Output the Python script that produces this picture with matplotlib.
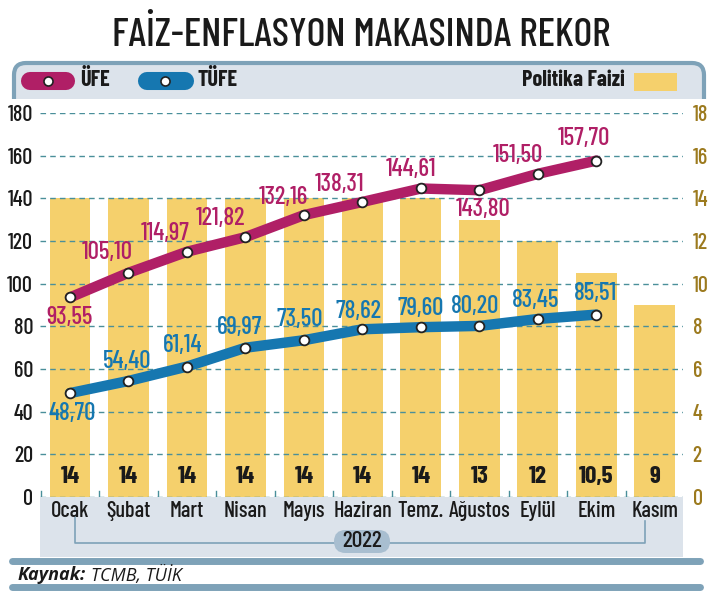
import matplotlib
matplotlib.use("Agg")
import matplotlib.pyplot as plt
from matplotlib.patches import FancyBboxPatch, Rectangle
import numpy as np

months = ["Ocak", "Şubat", "Mart", "Nisan", "Mayıs", "Haziran", "Temz.", "Ağustos", "Eylül", "Ekim", "Kasım"]
policy_rate = [14, 14, 14, 14, 14, 14, 14, 13, 12, 10.5, 9]
policy_labels = ["14", "14", "14", "14", "14", "14", "14", "13", "12", "10,5", "9"]
ufe = [93.55, 105.10, 114.97, 121.82, 132.16, 138.31, 144.61, 143.80, 151.50, 157.70]
tufe = [48.70, 54.40, 61.14, 69.97, 73.50, 78.62, 79.60, 80.20, 83.45, 85.51]
left_ticks = [0, 20, 40, 60, 80, 100, 120, 140, 160, 180]
right_ticks = [0, 2, 4, 6, 8, 10, 12, 14, 16, 18]
year_label = "2022"

FONT = ["Barlow Condensed", "DejaVu Sans"]
plt.rcParams["font.family"] = FONT

C_UFE = "#b01f66"
C_TUFE = "#1677b0"
C_BAR = "#f5d06c"
C_PANEL = "#dce3eb"
C_BORDER = "#7ea2b8"
C_TEXT = "#1a1a1a"
C_GRID = "#4a8f9a"
C_RIGHT = "#9c7a1e"

W, H = 720, 600
fig = plt.figure(figsize=(7.2, 6.0), dpi=100)
fig.patch.set_facecolor("white")

ov = fig.add_axes([0, 0, 1, 1], zorder=0)
ov.set_xlim(0, W)
ov.set_ylim(H, 0)
ov.axis("off")

# title
ov.text(361, 36, "FAİZ-ENFLASYON MAKASINDA REKOR", ha="center", va="center",
        fontsize=29, fontweight=500, color=C_TEXT)

# legend panel (rounded top)
ov.add_patch(FancyBboxPatch((14, 63), 690, 60, boxstyle="round,pad=0,rounding_size=12",
                            facecolor=C_PANEL, edgecolor=C_BORDER, linewidth=3, zorder=1))
ov.add_patch(Rectangle((8, 99), 704, 30, facecolor="white", edgecolor="none", zorder=2))
ov.plot([30, 66], [81, 81], color=C_UFE, linewidth=13, solid_capstyle="round", zorder=3)
ov.plot([48], [81], "o", markersize=6.5, markerfacecolor="white", markeredgecolor="#222", markeredgewidth=1.2, zorder=4)
ov.text(80, 80, "ÜFE", ha="left", va="center", fontsize=16, fontweight="bold", color=C_TEXT, zorder=4)
ov.plot([147, 185], [81, 81], color=C_TUFE, linewidth=13, solid_capstyle="round", zorder=3)
ov.plot([165], [81], "o", markersize=6.5, markerfacecolor="white", markeredgecolor="#222", markeredgewidth=1.2, zorder=4)
ov.text(198, 80, "TÜFE", ha="left", va="center", fontsize=16, fontweight="bold", color=C_TEXT, zorder=4)
ov.text(625, 80, "Politika Faizi", ha="right", va="center", fontsize=16, fontweight="bold", color=C_TEXT, zorder=4)
ov.add_patch(Rectangle((634, 73), 43, 18, facecolor=C_BAR, edgecolor="none", zorder=4))

# bottom panel and rules
ov.add_patch(Rectangle((40, 497), 643, 60, facecolor=C_PANEL, edgecolor="none", zorder=1))
ov.plot([12, 700], [561, 561], color=C_BORDER, linewidth=5, solid_capstyle="round", zorder=2)
ov.plot([12, 700], [587, 587], color=C_BORDER, linewidth=5, solid_capstyle="round", zorder=2)
src_font = ["Open Sans", "DejaVu Sans"]
t1 = ov.text(18, 575, "Kaynak:", ha="left", va="center", fontsize=13, fontweight="bold",
             fontstyle="italic", color=C_TEXT, family=src_font)

# main axes: x 40..683 px, y 113..497 px
ax = fig.add_axes([40 / W, (H - 497) / H, 643 / W, 384 / H], zorder=2)
ax.patch.set_alpha(0)
ax2 = ax.twinx()
x = np.arange(len(months))
ax.set_xlim(-0.513, 10.48)
ax.set_ylim(0, 180)
ax2.set_ylim(0, 18)
for a in (ax, ax2):
    for s in a.spines.values():
        s.set_visible(False)

ax.set_yticks(left_ticks)
ax.set_yticklabels([str(t) for t in left_ticks], fontsize=16, fontweight=500, color=C_TEXT)
ax.tick_params(axis="y", length=0, pad=5)
ax2.set_yticks(right_ticks)
ax2.set_yticklabels([str(t) for t in right_ticks], fontsize=16, fontweight=500, color=C_RIGHT)
ax2.tick_params(axis="y", length=0, pad=7)

for t in left_ticks:
    ax.axhline(t, color=C_GRID, linewidth=1, linestyle=(0, (4, 3)), zorder=0)

ax2.bar(x, policy_rate, width=0.7, color=C_BAR, zorder=1)
ax2.set_zorder(1)
ax.set_zorder(2)
for xi, lab in zip(x, policy_labels):
    ax2.text(xi, 0.42, lab, ha="center", va="bottom", fontsize=18, fontweight="bold", color=C_TEXT, zorder=3)

for b in np.arange(-0.5, 11, 1):
    ax.plot([b, b], [0, 3], color=C_GRID, linewidth=1, zorder=3)

ax.set_xticks(x)
ax.set_xticklabels(months, fontsize=16, fontweight=500, color=C_TEXT)
ax.tick_params(axis="x", length=0, pad=3)

xl = x[:len(ufe)]
for vals, col in ((ufe, C_UFE), (tufe, C_TUFE)):
    ax.plot(xl, vals, color=col, linewidth=7.5, solid_capstyle="round", solid_joinstyle="round", zorder=4)
    ax.plot(xl, vals, "o", markersize=7, markerfacecolor="white", markeredgecolor="#222",
            markeredgewidth=1.3, zorder=5)

def fmt(v):
    return f"{v:.2f}".replace(".", ",")

# label offsets in pixels (dx, dy up)
ufe_off = [(0, -20), (-21, 20), (-22, 18), (-25, 19), (-21, 18), (-23, 17), (-10, 19), (4, -19), (-20, 18), (-13, 22)]
tufe_off = [(2, -20), (-1, 19), (-4, 21), (-6, 20), (-4, 21), (-4, 18), (0, 19), (-4, 19), (-2, 18), (-1, 21)]
PT = 0.72
for xi, v, (dx, dy) in zip(xl, ufe, ufe_off):
    ax.annotate(fmt(v), (xi, v), xytext=(dx * PT, dy * PT), textcoords="offset points",
                ha="center", va="center", fontsize=18, fontweight=500, color=C_UFE, zorder=6)
for xi, v, (dx, dy) in zip(xl, tufe, tufe_off):
    ax.annotate(fmt(v), (xi, v), xytext=(dx * PT, dy * PT), textcoords="offset points",
                ha="center", va="center", fontsize=18, fontweight=500, color=C_TUFE, zorder=6)

# year bracket
ov.plot([75, 75, 645, 645], [517, 543, 543, 521], color=C_BORDER, linewidth=1.2, zorder=3)
ov.add_patch(FancyBboxPatch((334, 530), 56, 23, boxstyle="round,pad=0,rounding_size=11.5",
                            facecolor="#a8bed0", edgecolor="none", zorder=4))
ov.text(362, 541, year_label, ha="center", va="center", fontsize=17, fontweight=500, color=C_TEXT, zorder=5)

# place second part of source line right after "Kaynak:"
fig.canvas.draw()
bb = t1.get_window_extent(renderer=fig.canvas.get_renderer())
ov.text(bb.x1 + 5, 575, "TCMB, TÜİK", ha="left", va="center", fontsize=13,
        fontstyle="italic", color=C_TEXT, family=src_font)

fig.savefig("out.png", dpi=100, facecolor="white")
